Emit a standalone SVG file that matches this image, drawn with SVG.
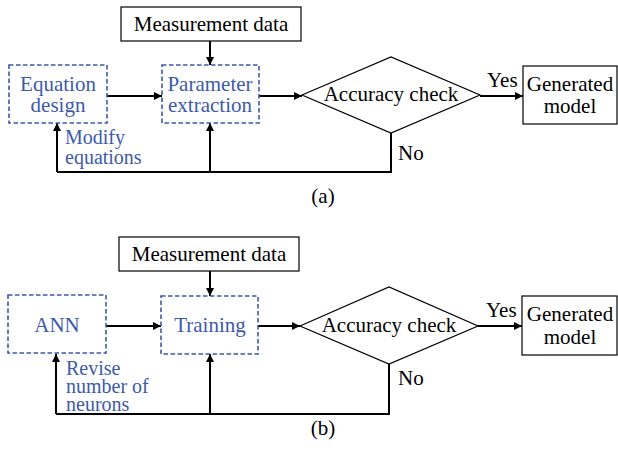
<svg xmlns="http://www.w3.org/2000/svg" width="618" height="451" viewBox="0 0 618 451">
<style>
text{font-family:'Liberation Serif','Times New Roman',serif;font-size:21px;text-anchor:middle}
.blue{fill:#3C5AAA}
.dash{fill:none;stroke:#3C5AAA;stroke-width:1.6;stroke-dasharray:4.5 2.5}
.box{fill:#fff;stroke:#000;stroke-width:1.2}
.ln{fill:none;stroke:#000;stroke-width:2}
.arr{fill:none;stroke:#000;stroke-width:2;marker-end:url(#ah)}
.lab{text-anchor:start}
.tight{font-size:20px}
</style>
<defs>
<marker id="ah" viewBox="0 0 10 10" refX="10" refY="5" markerWidth="4.5" markerHeight="4" orient="auto" markerUnits="strokeWidth">
<path d="M0,0L10,5L0,10z" fill="#000"/>
</marker>
</defs>
<g id="connectors">
<path class="arr" d="M210,41V65"/>
<path class="arr" d="M107,96H162"/>
<path class="arr" d="M259,96H302"/>
<path class="arr" d="M480,96H523"/>
<path class="ln" d="M391,133V172H57"/>
<path class="arr" d="M57,172V123"/>
<path class="arr" d="M210,172V123"/>
<path class="arr" d="M210,271V296"/>
<path class="arr" d="M106,326H161"/>
<path class="arr" d="M258,326H300"/>
<path class="arr" d="M478,326H522"/>
<path class="ln" d="M389,364V414H56"/>
<path class="arr" d="M56,414V354"/>
<path class="arr" d="M210,414V354"/>
</g>
<g id="a-measurement"><rect class="box" x="121" y="7" width="180" height="34"/><text x="211" y="31">Measurement data</text></g>
<g id="a-equation"><rect class="dash" x="9" y="65" width="98" height="58"/><text class="blue" x="58" y="91">Equation</text><text class="blue" x="58" y="112">design</text></g>
<g id="a-parameter"><rect class="dash" x="162" y="65" width="97" height="58"/><text class="blue" x="210" y="91">Parameter</text><text class="blue" x="210" y="112">extraction</text></g>
<g id="a-accuracy"><path class="box" d="M302,95L391,57L480,95L391,133z"/><text x="391" y="101">Accuracy check</text></g>
<g id="a-generated"><rect class="box" x="523" y="66" width="94" height="58"/><text x="570" y="91">Generated</text><text x="570" y="113">model</text></g>
<text class="lab" x="487" y="87">Yes</text>
<text class="lab" x="398" y="160">No</text>
<text class="blue lab tight" x="65" y="144">Modify</text>
<text class="blue lab tight" x="65" y="164">equations</text>
<text x="323" y="203">(a)</text>
<g id="b-measurement"><rect class="box" x="119" y="237" width="180" height="34"/><text x="209" y="261">Measurement data</text></g>
<g id="b-ann"><rect class="dash" x="8" y="295" width="98" height="58"/><text class="blue" x="57" y="332">ANN</text></g>
<g id="b-training"><rect class="dash" x="161" y="296" width="97" height="58"/><text class="blue" x="210" y="332">Training</text></g>
<g id="b-accuracy"><path class="box" d="M300,326L389,287L478,326L389,364z"/><text x="389" y="332">Accuracy check</text></g>
<g id="b-generated"><rect class="box" x="522" y="296" width="95" height="59"/><text x="570" y="321">Generated</text><text x="570" y="344">model</text></g>
<text class="lab" x="486" y="317">Yes</text>
<text class="lab" x="398" y="385">No</text>
<text class="blue lab tight" x="66" y="375">Revise</text>
<text class="blue lab tight" x="66" y="393">number of</text>
<text class="blue lab tight" x="66" y="411">neurons</text>
<text x="323" y="435">(b)</text>
</svg>
